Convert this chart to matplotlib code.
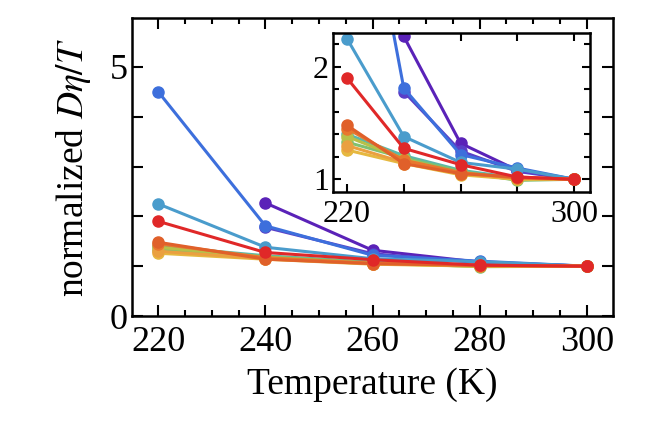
import numpy as np
import matplotlib
matplotlib.use("Agg")
import matplotlib.pyplot as plt
from matplotlib.ticker import MultipleLocator, FixedLocator, FuncFormatter

plt.rcParams['font.family'] = ['Liberation Serif', 'DejaVu Serif']
plt.rcParams['mathtext.fontset'] = 'stix'

temps = [220, 240, 260, 280, 300]
nan = np.nan
series_values = [
    [nan, 2.27, 1.32, 1.08, 1.00],
    [nan, 1.78, 1.25, 1.07, 1.00],
    [4.50, 1.81, 1.22, 1.10, 1.00],
    [2.25, 1.38, 1.15, 1.09, 1.00],
    [1.40, 1.21, 1.08, 1.01, 1.00],
    [1.33, 1.19, 1.07, 0.99, 1.00],
    [1.38, 1.18, 1.05, 1.00, 1.00],
    [1.26, 1.14, 1.04, 1.00, 1.00],
    [1.30, 1.15, 1.05, 1.01, 1.00],
    [1.45, 1.17, 1.06, 1.01, 1.00],
    [1.48, 1.14, 1.05, 1.02, 1.00],
    [1.90, 1.275, 1.13, 1.02, 1.00],
]
series_colors = ['#5a22b8', '#5a3fc8', '#3d6fdc', '#4a9ccc', '#5cb8a8', '#80c070',
                 '#b8c048', '#e6b840', '#eaa040', '#e8782e', '#e0602a', '#e02828']

fig = plt.figure(figsize=(6.64, 4.32), dpi=100)
ax = fig.add_axes([0.1988, 0.2685, 0.7244, 0.6898])
ins = fig.add_axes([0.5015, 0.5556, 0.387, 0.368])

for a in (ax, ins):
    for vals, c in zip(series_values, series_colors):
        a.plot(temps, vals, '-o', color=c, lw=2.2, ms=8, mec=c, mfc=c)
    for s in a.spines.values():
        s.set_linewidth(1.8)
    a.tick_params(which='both', direction='in', top=True, right=True, width=1.5)

ax.set_xlim(215.1, 304.9)
ax.set_ylim(0, 5.98)
ax.xaxis.set_major_locator(MultipleLocator(20))
ax.xaxis.set_minor_locator(MultipleLocator(5))
ax.yaxis.set_major_locator(MultipleLocator(1))
ax.yaxis.set_major_formatter(FuncFormatter(lambda v, p: '%d' % v if round(v) in (0, 5) else ''))
ax.tick_params(which='major', length=8, labelsize=26)
ax.tick_params(which='minor', length=4)
ax.tick_params(axis='y', pad=3)
ax.tick_params(axis='x', pad=7)
ax.set_xlabel('Temperature (K)', fontsize=27, labelpad=6)
ax.set_ylabel(r'normalized $D\eta/T$', fontsize=27, labelpad=12)

ins.set_xlim(215.07, 305.6)
ins.set_ylim(0.887, 2.30)
ins.xaxis.set_major_locator(MultipleLocator(20))
ins.xaxis.set_major_formatter(FuncFormatter(lambda v, p: '%d' % v if round(v) in (220, 300) else ''))
ins.yaxis.set_major_locator(FixedLocator([1, 2]))
ins.yaxis.set_minor_locator(MultipleLocator(0.2))
ins.tick_params(which='major', length=6, labelsize=23)
ins.tick_params(which='minor', length=4)
ins.tick_params(axis='y', pad=3)
ins.tick_params(axis='x', pad=6)

fig.savefig('out.png', dpi=100)
